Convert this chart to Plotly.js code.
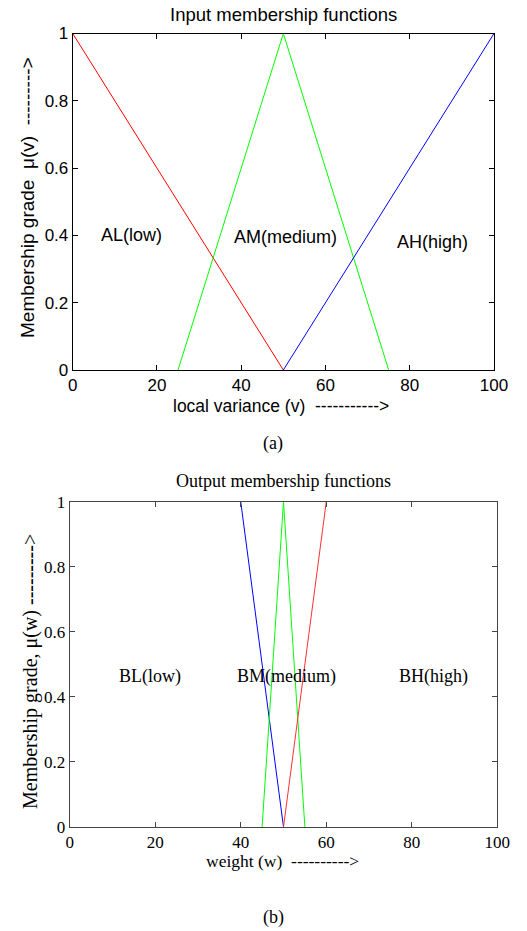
<!DOCTYPE html>
<html>
<head>
<meta charset="utf-8">
<script src="https://cdn.plot.ly/plotly-3.0.1.min.js"></script>
<style>html,body{margin:0;padding:0;background:#fff;}#chart{width:527px;height:931px;}</style>
</head>
<body>
<div id="chart"></div>
<script>
// ---- Input membership functions (a) ----
const inLowX = [0, 50];
const inLowY = [1, 0];
const inMedX = [25, 50, 75];
const inMedY = [0, 1, 0];
const inHighX = [50, 100];
const inHighY = [0, 1];
const inLabels = ["AL(low)", "AM(medium)", "AH(high)"];
const inLabelX = [14, 50.4, 85.3];
const inLabelY = [0.40, 0.394, 0.381];

// ---- Output membership functions (b) ----
const outLowX = [40, 50];
const outLowY = [1, 0];
const outMedX = [45, 50, 55];
const outMedY = [0, 1, 0];
const outHighX = [50, 60];
const outHighY = [0, 1];
const outLabels = ["BL(low)", "BM(medium)", "BH(high)"];
const outLabelX = [18.7, 50.7, 85.0];
const outLabelY = [0.462, 0.462, 0.462];

const xTicks = [0, 20, 40, 60, 80, 100];
const yTicks = [0, 0.2, 0.4, 0.6, 0.8, 1];

const SANS = "Liberation Sans, Arial, sans-serif";
const SERIF = "Liberation Serif, Times New Roman, serif";

function tr(x, y, color, xa, ya) {
  return {x: x, y: y, type: "scatter", mode: "lines", xaxis: xa, yaxis: ya,
          line: {color: color, width: 1}, hoverinfo: "skip", showlegend: false};
}

const data = [
  tr(inLowX, inLowY, "#ff0000", "x", "y"),
  tr(inMedX, inMedY, "#00ff00", "x", "y"),
  tr(inHighX, inHighY, "#0000ff", "x", "y"),
  tr(outLowX, outLowY, "#0000ff", "x2", "y2"),
  tr(outMedX, outMedY, "#00ff00", "x2", "y2"),
  tr(outHighX, outHighY, "#ff3030", "x2", "y2")
];

function axis(dom, range, ticks, font, lineColor, anchor) {
  return {
    domain: dom, range: range, anchor: anchor,
    tickvals: ticks, ticktext: ticks.map(String),
    ticks: "inside", ticklen: 5, tickcolor: lineColor, tickwidth: 1,
    showline: true, linecolor: lineColor, linewidth: 1, mirror: "allticks",
    showgrid: false, zeroline: false, fixedrange: true,
    tickfont: font, automargin: false
  };
}

const fontA = {family: SANS, size: 17, color: "#000"};
const fontB = {family: SERIF, size: 17, color: "#000"};

function note(x, y, text, font, angle) {
  const a = {x: x / 527, y: 1 - y / 931, xref: "paper", yref: "paper", text: text,
    showarrow: false, xanchor: "center", yanchor: "middle", font: font};
  if (angle) a.textangle = angle;
  return a;
}

const annotations = [];
inLabels.forEach((t, i) => annotations.push({
  x: inLabelX[i], y: inLabelY[i], xref: "x", yref: "y", text: t, showarrow: false,
  xanchor: "center", yanchor: "middle",
  font: {family: SANS, size: 18, color: "#000"}
}));
outLabels.forEach((t, i) => annotations.push({
  x: outLabelX[i], y: outLabelY[i], xref: "x2", yref: "y2", text: t, showarrow: false,
  xanchor: "center", yanchor: "middle",
  font: {family: SERIF, size: 18, color: "#000"}
}));
annotations.push(note(283, 14, "Input membership functions", {family: SANS, size: 18.5, color: "#000"}));
annotations.push(note(283, 481, "Output membership functions", {family: SERIF, size: 18, color: "#000"}));
annotations.push(note(281, 406, "local variance (v)  ----------->", {family: SANS, size: 17.5, color: "#000"}));
annotations.push(note(282, 861, "weight (w)  ---------->", {family: SERIF, size: 17.5, color: "#000"}));
annotations.push(note(27, 198, "Membership grade  \u03bc(v)  --------->", {family: SANS, size: 19, color: "#000"}, -90));
annotations.push(note(30, 672, "Membership grade, \u03bc(w) --------->", {family: SERIF, size: 20, color: "#000"}, -90));
annotations.push(note(273, 443, "(a)", {family: SERIF, size: 18, color: "#000"}));
annotations.push(note(273, 917, "(b)", {family: SERIF, size: 18, color: "#000"}));

const layout = {
  width: 527, height: 931,
  margin: {l: 0, r: 0, t: 0, b: 0},
  paper_bgcolor: "#fff", plot_bgcolor: "#fff",
  showlegend: false,
  xaxis: axis([72.7/527, 494/527], [0, 100], xTicks, fontA, "#000", "y"),
  yaxis: axis([1 - 370/931, 1 - 33.5/931], [0, 1], yTicks, fontA, "#000", "x"),
  xaxis2: axis([69.7/527, 497.3/527], [0, 100], xTicks, fontB, "#444", "y2"),
  yaxis2: axis([1 - 827/931, 1 - 501.7/931], [0, 1], yTicks, fontB, "#444", "x2"),
  annotations: annotations
};

Plotly.newPlot("chart", data, layout, {displayModeBar: false, staticPlot: true});
</script>
</body>
</html>
